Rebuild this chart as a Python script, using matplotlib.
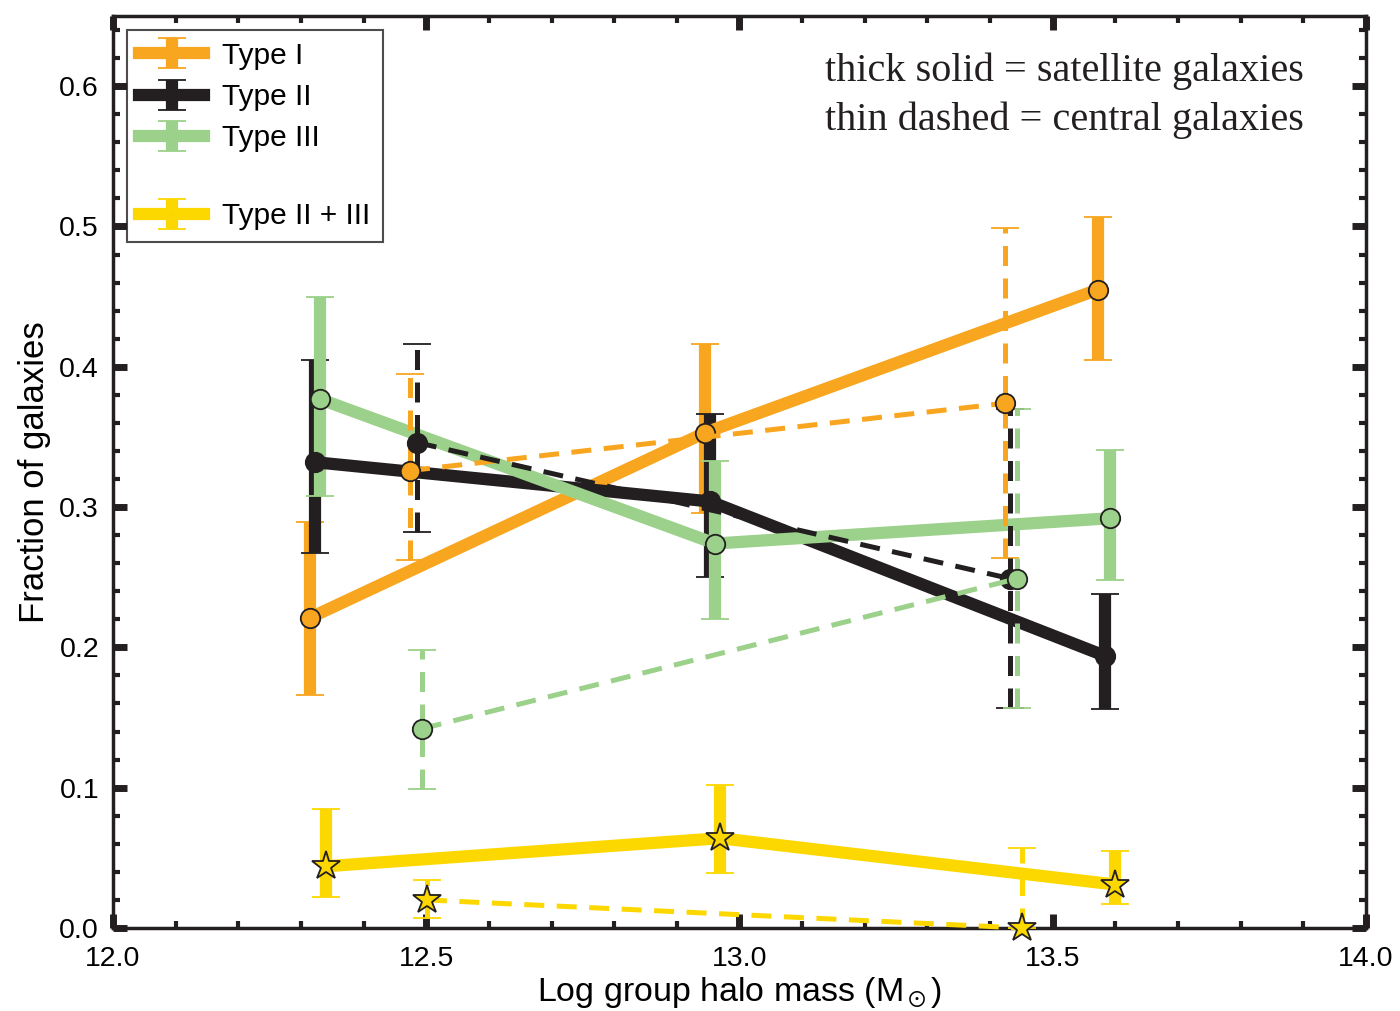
import matplotlib
matplotlib.use("Agg")
import matplotlib.pyplot as plt
from matplotlib.lines import Line2D

plt.rcParams['font.family'] = ['Liberation Sans', 'DejaVu Sans']
plt.rcParams['mathtext.fontset'] = 'stix'

# colours
c_I = '#F8A51F'
c_II = '#231F20'
c_III = '#9BD18A'
c_23 = '#FCD800'

# satellite galaxies (thick solid)
sat_x_I = [12.314, 12.945, 13.572]
sat_y_I = [0.221, 0.353, 0.455]
sat_lo_I = [0.166, 0.296, 0.405]
sat_hi_I = [0.289, 0.416, 0.507]

sat_x_II = [12.322, 12.953, 13.583]
sat_y_II = [0.332, 0.304, 0.194]
sat_lo_II = [0.267, 0.250, 0.156]
sat_hi_II = [0.405, 0.366, 0.238]

sat_x_III = [12.330, 12.961, 13.591]
sat_y_III = [0.377, 0.274, 0.292]
sat_lo_III = [0.308, 0.220, 0.248]
sat_hi_III = [0.450, 0.333, 0.341]

sat_x_23 = [12.340, 12.969, 13.599]
sat_y_23 = [0.044, 0.064, 0.031]
sat_lo_23 = [0.022, 0.039, 0.017]
sat_hi_23 = [0.085, 0.102, 0.055]

# central galaxies (thin dashed)
cen_x_I = [12.474, 13.424]
cen_y_I = [0.326, 0.374]
cen_lo_I = [0.262, 0.264]
cen_hi_I = [0.395, 0.499]

cen_x_II = [12.485, 13.432]
cen_y_II = [0.346, 0.249]
cen_lo_II = [0.282, 0.157]
cen_hi_II = [0.416, 0.370]

cen_x_III = [12.493, 13.443]
cen_y_III = [0.142, 0.249]
cen_lo_III = [0.099, 0.157]
cen_hi_III = [0.198, 0.370]

cen_x_23 = [12.501, 13.451]
cen_y_23 = [0.020, 0.000]
cen_lo_23 = [0.007, 0.000]
cen_hi_23 = [0.034, 0.057]


def yerr(y, lo, hi):
    return [[a - b for a, b in zip(y, lo)], [b - a for a, b in zip(y, hi)]]


fig = plt.figure(figsize=(14, 10.11), dpi=100)
ax = fig.add_axes([0.0807, 0.0821, 0.8950, 0.9021])

handles = []
sat = [(sat_x_I, sat_y_I, sat_lo_I, sat_hi_I, c_I, 'o', c_I, 'Type I'),
       (sat_x_II, sat_y_II, sat_lo_II, sat_hi_II, c_II, 'o', c_II, 'Type II'),
       (sat_x_III, sat_y_III, sat_lo_III, sat_hi_III, c_III, 'o', c_III, 'Type III'),
       (sat_x_23, sat_y_23, sat_lo_23, sat_hi_23, c_23, '*', c_23, 'Type II + III')]
for x, y, lo, hi, c, m, fc, lab in sat:
    ms = 21 if m == '*' else 14
    eb = ax.errorbar(x, y, yerr=yerr(y, lo, hi), color=c, lw=8.8, elinewidth=8.8,
                     capsize=10, capthick=1.8, marker=m, ms=ms, mfc=fc,
                     mec=c_II, mew=1.3, label=lab, zorder=3)
    handles.append(eb)

cen = [(cen_x_I, cen_y_I, cen_lo_I, cen_hi_I, c_I, 'o'),
       (cen_x_II, cen_y_II, cen_lo_II, cen_hi_II, c_II, 'o'),
       (cen_x_III, cen_y_III, cen_lo_III, cen_hi_III, c_III, 'o'),
       (cen_x_23, cen_y_23, cen_lo_23, cen_hi_23, c_23, '*')]
for x, y, lo, hi, c, m in cen:
    ms = 21 if m == '*' else 14
    eb = ax.errorbar(x, y, yerr=yerr(y, lo, hi), color=c, lw=3.6, ls=(0, (4, 2.5)),
                     elinewidth=3.6, capsize=10, capthick=1.8, marker=m, ms=ms,
                     mfc=c, mec=c_II, mew=1.3, zorder=4)
    eb[2][0].set_linestyle((0, (4, 2.5)))
    eb[0].set_clip_on(False)

ax.set_xlim(12.0, 14.0)
ax.set_ylim(0.0, 0.65)
ax.set_xticks([12.0, 12.5, 13.0, 13.5, 14.0])
ax.set_xticklabels(['12.0', '12.5', '13.0', '13.5', '14.0'])
ax.set_xticks([12.1, 12.2, 12.3, 12.4, 12.6, 12.7, 12.8, 12.9, 13.1, 13.2, 13.3,
               13.4, 13.6, 13.7, 13.8, 13.9], minor=True)
ax.set_yticks([0.0, 0.1, 0.2, 0.3, 0.4, 0.5, 0.6])
ax.set_yticklabels(['0.0', '0.1', '0.2', '0.3', '0.4', '0.5', '0.6'])
ax.set_yticks([0.02, 0.04, 0.06, 0.08, 0.12, 0.14, 0.16, 0.18, 0.22, 0.24, 0.26,
               0.28, 0.32, 0.34, 0.36, 0.38, 0.42, 0.44, 0.46, 0.48, 0.52, 0.54,
               0.56, 0.58, 0.62, 0.64], minor=True)
ax.tick_params(which='both', direction='in', top=True, right=True, color=c_II)
ax.tick_params(which='major', length=10, width=5, labelsize=20.5)
ax.tick_params(axis='x', which='major', pad=13)
ax.tick_params(axis='y', which='major', pad=10)
ax.tick_params(which='minor', length=5, width=3)
for s in ax.spines.values():
    s.set_linewidth(2.5)
    s.set_color(c_II)

ax.set_xlabel('Log group halo mass (M$_\\odot$)', fontsize=24.5, labelpad=2)
ax.set_ylabel('Fraction of galaxies', fontsize=25, labelpad=6)

blank = Line2D([], [], color='none')
leg = ax.legend(handles[:3] + [blank, handles[3]],
                ['Type I', 'Type II', 'Type III', ' ', 'Type II + III'],
                loc='upper left', bbox_to_anchor=(0.011, 0.985), borderaxespad=0,
                fontsize=21.5, frameon=True, fancybox=False, handlelength=2.2,
                handletextpad=0.6, labelspacing=0.45, borderpad=0.4,
                markerscale=0.0001)
leg.get_texts()[3].set_fontsize(8)
leg.get_frame().set_edgecolor(c_II)
leg.get_frame().set_linewidth(1.5)

ax.text(0.568, 0.960, 'thick solid = satellite galaxies\nthin dashed = central galaxies',
        transform=ax.transAxes, ha='left', va='top', fontsize=29,
        family=['Liberation Serif', 'DejaVu Serif'], linespacing=1.42, color=c_II)

fig.savefig('out.png', dpi=100)
